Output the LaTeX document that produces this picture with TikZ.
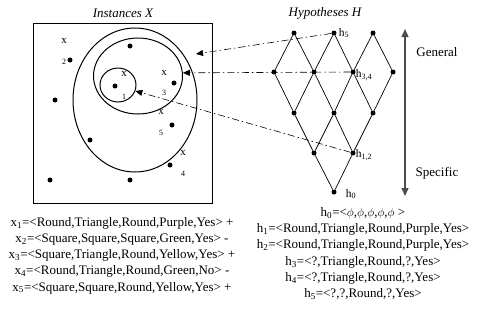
\documentclass[tikz,border=0pt]{standalone}
\usepackage{fontspec}
\setmainfont{Liberation Serif}
\usetikzlibrary{arrows.meta,positioning,shapes.geometric}
\tikzset{
  inst/.style={circle,fill=black,inner sep=0pt,minimum size=5pt},
  hyp/.style={circle,fill=black,inner sep=0pt,minimum size=5pt},
  lat/.style={line width=0.7pt},
  region/.style={ellipse,draw,line width=1pt,inner sep=0pt},
  xlab/.style={font=\fontsize{11}{11}\selectfont,inner sep=0pt},
  nlab/.style={font=\fontsize{8}{8}\selectfont,inner sep=0pt},
  hlab/.style={font=\fontsize{11.5}{11.5}\selectfont,inner sep=0pt,anchor=west},
  ttl/.style={font=\fontsize{13}{13}\selectfont\itshape,inner sep=0pt},
  side/.style={font=\fontsize{13}{13}\selectfont,inner sep=0pt},
  maps/.style={line width=0.6pt,dash pattern=on 7pt off 3pt on 1.5pt off 3pt,
    -{Triangle[length=7pt,width=6pt]}},
  gsarrow/.style={line width=1.3pt,draw=black!70,
    {Triangle[length=8pt,width=7pt]}-{Triangle[length=8pt,width=7pt]}},
  listing/.style={align=center,font=\fontsize{13}{16.25}\selectfont,inner sep=0pt},
}

\begin{document}
\begin{tikzpicture}[x=1pt,y=-1pt]
  \useasboundingbox (0,0) rectangle (477,322);
  % instance space
  \node[ttl] (xtitle) at (123,13) {Instances X};
  \draw[line width=1pt] (33,23) rectangle (212,203);
  \node[region,minimum width=124pt,minimum height=144pt] (outer) at (135,100) {};
  \node[region,minimum width=89pt,minimum height=76pt] (mid) at (138,76) {};
  \node[region,minimum width=36pt,minimum height=34pt] (inner) at (118,85) {};
  \node[inst] (p1) at (130,46) {};
  \node[inst] (p2) at (70,60) {};
  \node[inst] (p3) at (55,100) {};
  \node[inst] (p4) at (115,86) {};
  \node[inst] (p5) at (174,83) {};
  \node[inst] (p6) at (172,125) {};
  \node[inst] (p7) at (90,140) {};
  \node[inst] (p8) at (170,165) {};
  \node[inst] (p9) at (50,180) {};
  \node[inst] (p10) at (130,180) {};
  \node[xlab] (x2) at (64,41) {x};   \node[nlab] (n2) at (64,62) {2};
  \node[xlab] (x1) at (124,74) {x};  \node[nlab] (n1) at (124,97) {1};
  \node[xlab] (x3) at (164,73) {x};  \node[nlab] (n3) at (164,93) {3};
  \node[xlab] (x5) at (161,112) {x}; \node[nlab] (n5) at (161,133) {5};
  \node[xlab] (x4) at (183,153) {x}; \node[nlab] (n4) at (183,174) {4};
  % hypothesis lattice
  \node[ttl] (htitle) at (325,13) {Hypotheses H};
  \node[hyp] (a1) at (294,33) {};
  \node[hyp] (a2) at (334,33) {};
  \node[hyp] (a3) at (373,33) {};
  \node[hyp] (b1) at (274,72) {};
  \node[hyp] (b2) at (314,72) {};
  \node[hyp] (b3) at (353,72) {};
  \node[hyp] (b4) at (393,72) {};
  \node[hyp] (c1) at (294,113) {};
  \node[hyp] (c2) at (334,113) {};
  \node[hyp] (c3) at (373,113) {};
  \node[hyp] (d1) at (314,153) {};
  \node[hyp] (d2) at (353,153) {};
  \node[hyp] (e1) at (334,192) {};
  \foreach \u/\v in {a1/b1,a1/b2,a2/b2,a2/b3,a3/b3,a3/b4,
    b1/c1,b2/c1,b2/c2,b3/c2,b3/c3,b4/c3,c1/d1,c2/d1,c2/d2,c3/d2,d1/e1,d2/e1}
    \draw[lat] (\u) -- (\v);
  \node[hlab,right=2pt of a2] (h5) {h\textsubscript{5}};
  \node[hlab,right=0pt of b3,yshift=-3pt] (h34) {h\textsubscript{3,4}};
  \node[hlab,right=0pt of d2,yshift=-2pt] (h12) {h\textsubscript{1,2}};
  \node[hlab,right=9pt of e1,yshift=-2pt] (h0) {h\textsubscript{0}};
  % which hypothesis covers which region
  \coordinate (outertip) at (196,54);
  \draw[maps] (a2) -- (outertip);
  \draw[maps] (b3) -- (mid.4);
  \draw[maps] (d2) -- (inner.-19);
  % general / specific
  \coordinate (gtop) at (405,29);
  \coordinate (gbot) at (405,196);
  \draw[gsarrow] (gbot) -- (gtop);
  \node[side] (gen) at (437,52) {General};
  \node[side] (spec) at (437,173) {Specific};
  % the instances and hypotheses spelled out
  \node[listing] (xlist) at (122,255.5) {%
    x\textsubscript{1}=<Round,Triangle,Round,Purple,Yes> +\\
    x\textsubscript{2}=<Square,Square,Square,Green,Yes> -\\
    x\textsubscript{3}=<Square,Triangle,Round,Yellow,Yes> +\\
    x\textsubscript{4}=<Round,Triangle,Round,Green,No> -\\
    x\textsubscript{5}=<Square,Square,Round,Yellow,Yes> +};
  \node[listing] (hlist) at (363,253.5) {%
    h\textsubscript{0}=<$\phi$,$\phi$,$\phi$,$\phi$,$\phi$ >\\
    h\textsubscript{1}=<Round,Triangle,Round,Purple,Yes>\\
    h\textsubscript{2}=<Round,Triangle,Round,Purple,Yes>\\
    h\textsubscript{3}=<?,Triangle,Round,?,Yes>\\
    h\textsubscript{4}=<?,Triangle,Round,?,Yes>\\
    h\textsubscript{5}=<?,?,Round,?,Yes>};
\end{tikzpicture}
\end{document}
